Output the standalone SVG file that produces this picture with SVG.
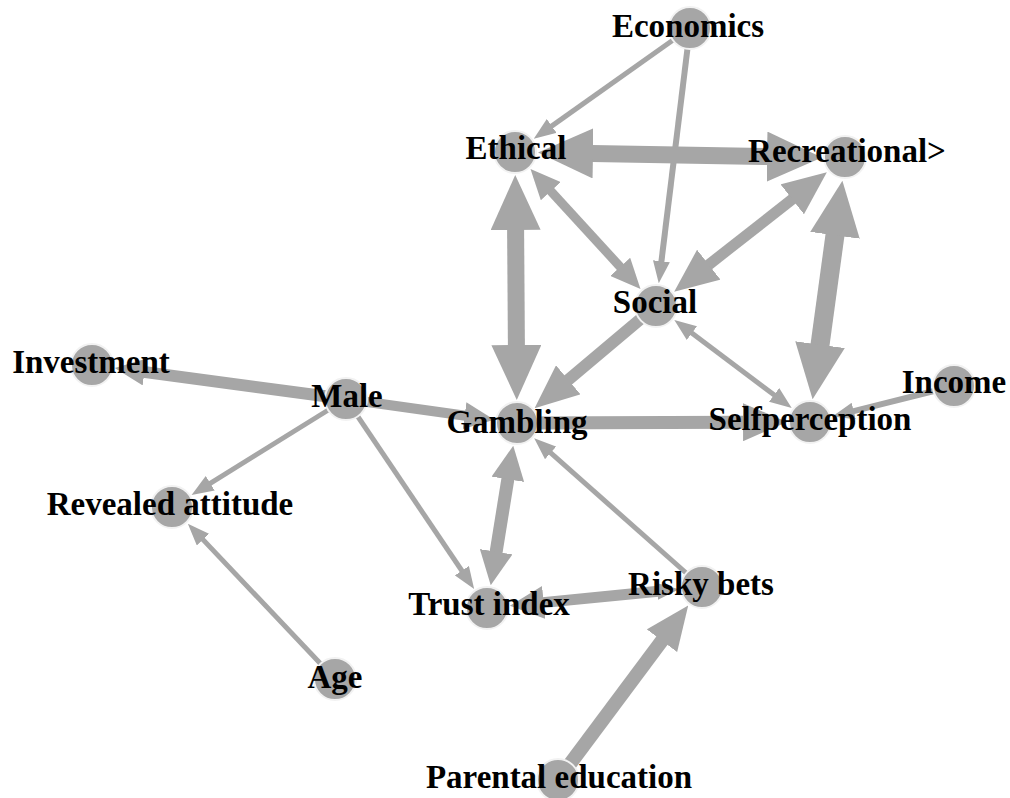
<svg xmlns="http://www.w3.org/2000/svg" width="1010" height="798" viewBox="0 0 1010 798">
  <style>
    .edge { stroke: #a6a6a6; fill: none; stroke-linecap: butt; }
    .node circle { fill: #a6a6a6; stroke: #f2f2f2; stroke-width: 2; }
    .node text { font-family: "Liberation Serif", "Times New Roman", serif; font-weight: bold; font-size: 33px; fill: #000; text-anchor: middle; }
    marker path { fill: #a6a6a6; }
  </style>
  <defs>
    <!-- arrowheads in user units: base sits on the line end, tip points forward -->
    <marker id="hs" markerUnits="userSpaceOnUse" markerWidth="22" markerHeight="17" viewBox="0 0 22 17" refX="1" refY="8.5" orient="auto-start-reverse"><path d="M0,0 L22,8.5 L0,17 z"/></marker>
    <marker id="hms" markerUnits="userSpaceOnUse" markerWidth="30" markerHeight="27" viewBox="0 0 30 27" refX="1" refY="13.5" orient="auto-start-reverse"><path d="M0,0 L30,13.5 L0,27 z"/></marker>
    <marker id="hm" markerUnits="userSpaceOnUse" markerWidth="34" markerHeight="33" viewBox="0 0 34 33" refX="1" refY="16.5" orient="auto-start-reverse"><path d="M0,0 L34,16.5 L0,33 z"/></marker>
    <marker id="hml" markerUnits="userSpaceOnUse" markerWidth="44" markerHeight="38" viewBox="0 0 44 38" refX="1" refY="19" orient="auto-start-reverse"><path d="M0,0 L44,19 L0,38 z"/></marker>
    <marker id="hl" markerUnits="userSpaceOnUse" markerWidth="55" markerHeight="50" viewBox="0 0 55 50" refX="1" refY="25" orient="auto-start-reverse"><path d="M0,0 L55,25 L0,50 z"/></marker>
  </defs>

  <g id="edges">
    <!-- Economics -> Ethical -->
    <line class="edge" x1="690" y1="28" x2="550.9" y2="126.6" stroke-width="5" marker-end="url(#hs)"/>
    <!-- Economics -> Social -->
    <line class="edge" x1="690" y1="28" x2="661.3" y2="262.3" stroke-width="6" marker-end="url(#hs)"/>
    <!-- Ethical <-> Recreational -->
    <line class="edge" x1="592.0" y1="153.4" x2="768.0" y2="156.6" stroke-width="17" marker-start="url(#hl)" marker-end="url(#hl)"/>
    <!-- Ethical <-> Gambling -->
    <line class="edge" x1="515.6" y1="229.0" x2="516.4" y2="346.0" stroke-width="17" marker-start="url(#hl)" marker-end="url(#hl)"/>
    <!-- Ethical <-> Social -->
    <line class="edge" x1="550.1" y1="190.4" x2="620.9" y2="267.6" stroke-width="9" marker-start="url(#hms)" marker-end="url(#hms)"/>
    <!-- Recreational <-> Social -->
    <line class="edge" x1="793.0" y1="198.7" x2="708.0" y2="265.3" stroke-width="11" marker-start="url(#hml)" marker-end="url(#hml)"/>
    <!-- Recreational <-> Selfperception -->
    <line class="edge" x1="835.1" y1="234.3" x2="819.9" y2="345.7" stroke-width="19" marker-start="url(#hl)" marker-end="url(#hl)"/>
    <!-- Social -> Gambling -->
    <line class="edge" x1="656" y1="306" x2="567.5" y2="380.5" stroke-width="12" marker-end="url(#hml)"/>
    <!-- Social <-> Selfperception -->
    <line class="edge" x1="691.1" y1="332.5" x2="774.9" y2="395.5" stroke-width="5" marker-start="url(#hs)" marker-end="url(#hs)"/>
    <!-- Male -> Investment -->
    <line class="edge" x1="346" y1="399" x2="143.5" y2="371.9" stroke-width="12" marker-end="url(#hms)"/>
    <!-- Male -> Gambling -->
    <line class="edge" x1="346" y1="399" x2="465.5" y2="415.8" stroke-width="10" marker-end="url(#hms)"/>
    <!-- Male -> Revealed attitude -->
    <line class="edge" x1="346" y1="399" x2="209.4" y2="483.8" stroke-width="5" marker-end="url(#hs)"/>
    <!-- Male -> Trust index -->
    <line class="edge" x1="346" y1="399" x2="462.4" y2="571.5" stroke-width="5" marker-end="url(#hs)"/>
    <!-- Gambling -> Selfperception -->
    <line class="edge" x1="517" y1="423" x2="744" y2="422.2" stroke-width="13" marker-end="url(#hml)"/>
    <!-- Income -> Selfperception -->
    <line class="edge" x1="954" y1="386" x2="852.7" y2="411.3" stroke-width="6" marker-end="url(#hs)"/>
    <!-- Gambling <-> Trust index -->
    <line class="edge" x1="508.0" y1="478.3" x2="496.0" y2="552.7" stroke-width="13" marker-start="url(#hm)" marker-end="url(#hm)"/>
    <!-- Risky bets -> Gambling -->
    <line class="edge" x1="702" y1="587" x2="549.9" y2="452.2" stroke-width="5" marker-end="url(#hs)"/>
    <!-- Risky bets <-> Trust index -->
    <line class="edge" x1="658.2" y1="591.3" x2="542.7" y2="602.6" stroke-width="11" marker-start="url(#hs)" marker-end="url(#hm)"/>
    <!-- Age -> Revealed attitude -->
    <line class="edge" x1="335" y1="679" x2="202.3" y2="538.9" stroke-width="5" marker-end="url(#hs)"/>
    <!-- Parental education -> Risky bets -->
    <line class="edge" x1="558" y1="780" x2="662.5" y2="639.9" stroke-width="14" marker-end="url(#hml)"/>
  </g>

  <g id="node-economics" class="node"><circle cx="690" cy="28" r="21"/><text x="688" y="37">Economics</text></g>
  <g id="node-ethical" class="node"><circle cx="515" cy="152" r="21"/><text x="516" y="159">Ethical</text></g>
  <g id="node-recreational" class="node"><circle cx="845" cy="157" r="21"/><text x="847" y="162">Recreational&gt;</text></g>
  <g id="node-social" class="node"><circle cx="656" cy="306" r="21"/><text x="655" y="313">Social</text></g>
  <g id="node-investment" class="node"><circle cx="92" cy="365" r="21"/><text x="91" y="373">Investment</text></g>
  <g id="node-male" class="node"><circle cx="346" cy="399" r="21"/><text x="347" y="407">Male</text></g>
  <g id="node-gambling" class="node"><circle cx="517" cy="423" r="21"/><text x="517" y="433">Gambling</text></g>
  <g id="node-selfperception" class="node"><circle cx="810" cy="422" r="21"/><text x="810" y="430">Selfperception</text></g>
  <g id="node-income" class="node"><circle cx="954" cy="386" r="21"/><text x="954" y="393">Income</text></g>
  <g id="node-revealed-attitude" class="node"><circle cx="172" cy="507" r="21"/><text x="170" y="515">Revealed attitude</text></g>
  <g id="node-trust-index" class="node"><circle cx="487" cy="608" r="21"/><text x="489" y="615">Trust index</text></g>
  <g id="node-risky-bets" class="node"><circle cx="702" cy="587" r="21"/><text x="701" y="595">Risky bets</text></g>
  <g id="node-age" class="node"><circle cx="335" cy="679" r="21"/><text x="335" y="688">Age</text></g>
  <g id="node-parental-education" class="node"><circle cx="558" cy="780" r="21"/><text x="559" y="788">Parental education</text></g>
</svg>
